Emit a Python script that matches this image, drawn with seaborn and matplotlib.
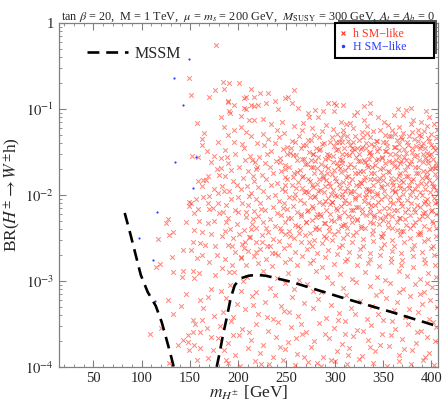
import numpy as np
import pandas as pd
import seaborn as sns
import matplotlib
matplotlib.use("Agg")
import matplotlib.pyplot as plt
from matplotlib.lines import Line2D
from matplotlib.patches import Rectangle
from matplotlib.ticker import FixedLocator, FixedFormatter, MultipleLocator

# points: (m_H+- [GeV], log10 BR)
h_top = [(149,-0.64),(151,-0.84),(177,-0.26),(184,-0.69),(191,-0.70),(200.5,-0.70),(176,-0.78),(185,-0.77),
         (208,-0.86),(213,-0.77),(169.6,-0.86),(189,-0.91),(195.6,-0.95),(206,-0.87),(206,-0.99),(208.5,-1.0),
         (216,-0.86),(216,-0.97),(192,-1.05),(203,-1.08),(182,-1.09),(157,-1.16),(164.5,-1.28),(163,-1.35),
         (185,-1.21),(189,-1.30),(195.6,-1.24),(203,-1.21),(208,-1.27),(213,-1.32),(216,-1.13),(211,-1.13),
         (195.6,-1.38),(204,-1.41),(220,-1.40),(163,-1.42),(179,-1.39),(223,-0.82),(231,-0.81),(248,-0.87),
         (257.5,-0.78),(252,-0.86),(293,-0.93),(299,-0.93),(299,-1.03),(190,-0.92),(191,-1.03),(213,-0.95),
         (221,-0.95),(228.6,-0.93),(238,-0.91),(241,-1.0),(256,-0.93),(262,-0.99),(272,-1.05),(280,-1.01),
         (287.5,-1.03),(283,-1.09),(273,-1.10),(301,-0.95),(309,-0.95),(330,-0.97),(337,-0.93),(323,-1.04),
         (336,-1.05),(365,-1.0),(373.5,-1.01),(378.6,-0.99),(394,-1.03),(397.5,-1.1),(345,-1.09),(350.8,-1.15),
         (361,-1.07),(370.3,-1.07),(381,-1.13),(389,-1.15),(320,-1.07),(306,-1.15),(316,-1.16),(330,-1.13),
         (167.5,-1.49),(152,-1.55),(158,-1.56),(175,-1.55),(182,-1.57),(188,-1.56),(182,-1.69),(226,-1.12),
         (234,-1.18),(245,-1.15),(258,-1.2),(267,-1.16),(276,-1.22),(240,-1.25),(226,-1.29)]

h_left = [(168.5,-1.78),(180,-1.77),(163,-1.90),(158,-1.84),(166.5,-1.83),(175,-1.93),(179,-1.98),(164,-2.02),
          (169.5,-2.01),(151,-2.09),(149,-2.13),(158,-2.16),(154,-2.21),(168.5,-2.09),(179,-2.09),(174,-2.15),
          (180,-2.21),(127,-2.28),(125,-2.33),(146,-2.31),(133,-2.43),(128,-2.47),(154,-2.41),(163,-2.43),
          (168.5,-2.33),(153,-2.55),(143,-2.64),(117,-2.51),(151,-2.64),(132,-2.72),(119,-2.80),(115,-2.84),
          (133,-2.90),(143,-2.88),(153,-2.88),(157,-2.73),(163,-2.70),(161,-2.56),(127,-3.22),(140.6,-3.29),
          (133,-3.38),(108.5,-3.62),(148,-3.63),(153,-3.60),(143,-3.69),(137.5,-3.74),(154,-3.74),(161,-3.78),
          (149,-3.80),(148,-3.71),(153.5,-3.45),(155,-3.50),(163,-3.45),(164,-3.31),(161,-3.22),(168.5,-3.19),
          (141.6,-2.95),(154,-2.97),(159,-2.91),(171.6,-3.10),(167.5,-3.55),(161,-3.59),(171.6,-3.65),
          (173.7,-3.80),(168.5,-3.90),(172,-2.45),(176,-2.6),(170,-2.78),(176,-2.93),(149,-2.08),(163.4,-1.83),
          (128,-3.95),(157,-3.92),(175,-3.41),(146,-3.15),(120,-3.55)]

h_mid = [(186,-1.48),(197,-1.52),(206,-1.46),(214,-1.59),(190,-1.63),(201,-1.67),(210,-1.72),(186,-1.78),
         (195,-1.84),(205,-1.8),(191,-1.96),(200,-2.03),(187,-2.12),(197,-2.18),(204,-2.09),(190,-2.27),
         (199,-2.34),(186,-2.42),(195,-2.5),(201,-2.46),(189,-2.58),(197,-2.66),(186,-2.75),(194,-2.81),
         (212,-1.55),(217,-1.62),(209,-1.9),(215,-2.28),(206,-2.62),(183,-1.9),(193,-1.71),(203,-1.93),
         (184,-2.2),(208,-2.2),(192,-2.4),(203,-2.72),(211,-2.49),
         (172,-1.62),(178,-1.7),(185,-1.95),(193,-2.05),(199,-1.88),(207,-1.6),(211,-2.01),(215,-1.78),
         (220,-1.67),(224,-2.16),(229,-2.38),(233,-2.6),(213,-2.4),(207,-2.55),(200,-2.2),(194,-2.6),
         (187,-2.32),(183,-2.48),(178,-2.7),(175,-2.3),(170,-2.16),(166,-2.58),(160,-2.3),(156,-2.05),
         (183,-2.85),(191,-2.9),(218,-2.66),(225,-2.55),(238,-2.67),(244,-2.42)]

h_dense = [
    (291,-1.19),(298,-1.23),(312,-1.18),(319,-1.22),(333,-1.2),(347,-1.24),(355,-1.19),(366,-1.21),(379,-1.18),(386,-1.24),(395,-1.2),(403,-1.17),
    (247,-1.28),(266,-1.25),(279,-1.3),(287,-1.26),(302,-1.29),(309,-1.25),(321,-1.31),(328,-1.27),(340,-1.26),(352,-1.3),(359,-1.25),(371,-1.28),(377,-1.31),(392,-1.26),(400,-1.29),(406,-1.25),
    (231,-1.35),(242,-1.33),(256,-1.37),(263,-1.32),(275,-1.36),(284,-1.33),(295,-1.38),(306,-1.34),(313,-1.31),(325,-1.36),(337,-1.33),(344,-1.37),(356,-1.32),(364,-1.36),(369,-1.33),(382,-1.35),(389,-1.31),(398,-1.37),(405,-1.34),
    (227,-1.42),(238,-1.4),(251,-1.44),(259,-1.39),(270,-1.42),(281,-1.45),(289,-1.4),(299,-1.43),(304,-1.39),(316,-1.42),(323,-1.45),(332,-1.4),(341,-1.43),(350,-1.39),(361,-1.44),(367,-1.41),(375,-1.38),(384,-1.43),(391,-1.4),(402,-1.44),
    (234,-1.49),(246,-1.47),(254,-1.51),(265,-1.46),(273,-1.5),(285,-1.47),(292,-1.52),(301,-1.48),(310,-1.45),(318,-1.5),(327,-1.47),(335,-1.51),(346,-1.46),(353,-1.49),(362,-1.52),(372,-1.47),(380,-1.5),(388,-1.46),(396,-1.51),(404,-1.48),
    (222,-1.56),(230,-1.53),(243,-1.57),(257,-1.54),(268,-1.58),(277,-1.53),(283,-1.56),(294,-1.54),(305,-1.58),(312,-1.53),(322,-1.56),(330,-1.59),(338,-1.54),(349,-1.57),(357,-1.52),(366,-1.55),(374,-1.59),(385,-1.54),(393,-1.57),(400,-1.53),
    (228,-1.63),(239,-1.61),(249,-1.65),(261,-1.6),(271,-1.64),(280,-1.61),(290,-1.66),(298,-1.62),(307,-1.6),(316,-1.64),(326,-1.61),(333,-1.65),(343,-1.6),(352,-1.63),(361,-1.66),(369,-1.61),(378,-1.64),(387,-1.6),(397,-1.63),(405,-1.66),
    (219,-1.7),(233,-1.68),(244,-1.72),(253,-1.67),(264,-1.71),(275,-1.68),(286,-1.73),(293,-1.69),(303,-1.66),(311,-1.71),(320,-1.68),(329,-1.72),(339,-1.67),(347,-1.7),(356,-1.73),(364,-1.68),(373,-1.71),(383,-1.67),(391,-1.72),(401,-1.69),
    (225,-1.77),(236,-1.75),(248,-1.79),(258,-1.74),(267,-1.78),(279,-1.75),(288,-1.8),(297,-1.76),(306,-1.73),(314,-1.78),(324,-1.75),(331,-1.79),(341,-1.74),(350,-1.77),(358,-1.8),(368,-1.75),(376,-1.78),(386,-1.74),(394,-1.79),(404,-1.76),
    (216,-1.84),(229,-1.82),(240,-1.86),(251,-1.81),(262,-1.85),(272,-1.82),(282,-1.87),(291,-1.83),(300,-1.8),(309,-1.85),(318,-1.82),(327,-1.86),(336,-1.81),(345,-1.84),(354,-1.87),(363,-1.82),(371,-1.85),(381,-1.81),(389,-1.86),(398,-1.83),(406,-1.8),
    (221,-1.91),(234,-1.89),(245,-1.93),(256,-1.88),(266,-1.92),(276,-1.89),(285,-1.94),(295,-1.9),(304,-1.87),(313,-1.92),(322,-1.89),(332,-1.93),(340,-1.88),(349,-1.91),(359,-1.94),(367,-1.89),(377,-1.92),(385,-1.88),(393,-1.93),(402,-1.9),
    (213,-1.98),(226,-1.96),(238,-2.0),(249,-1.95),(259,-1.99),(270,-1.96),(280,-2.01),(289,-1.97),(298,-1.94),(308,-1.99),(317,-1.96),(325,-2.0),(335,-1.95),(344,-1.98),(352,-2.01),(362,-1.96),(371,-1.99),(380,-1.95),(390,-2.0),(399,-1.97),(405,-1.94),
    (218,-2.05),(231,-2.03),(242,-2.07),(253,-2.02),(264,-2.06),(274,-2.03),(284,-2.08),(293,-2.04),(302,-2.01),(311,-2.06),(321,-2.03),(330,-2.07),(339,-2.02),(348,-2.05),(357,-2.08),(366,-2.03),(375,-2.06),(384,-2.02),(393,-2.07),(403,-2.04),
    (210,-2.12),(223,-2.1),(236,-2.14),(247,-2.09),(257,-2.13),(268,-2.1),(278,-2.15),(288,-2.11),(297,-2.08),(306,-2.13),(315,-2.1),(324,-2.14),(334,-2.09),(342,-2.12),(351,-2.15),(360,-2.1),(370,-2.13),(379,-2.09),(388,-2.14),(397,-2.11),(406,-2.08),
    (216,-2.19),(228,-2.17),(240,-2.21),(251,-2.16),(261,-2.2),(272,-2.17),(282,-2.22),(291,-2.18),(301,-2.15),(310,-2.2),(319,-2.17),(328,-2.21),(337,-2.16),(346,-2.19),(355,-2.22),(364,-2.17),(373,-2.2),(382,-2.16),(391,-2.21),(401,-2.18),
    (208,-2.26),(221,-2.24),(233,-2.28),(244,-2.23),(255,-2.27),(265,-2.24),(276,-2.29),(286,-2.25),(295,-2.22),(304,-2.27),(314,-2.24),(323,-2.28),(332,-2.23),(341,-2.26),(350,-2.29),(359,-2.24),(368,-2.27),(378,-2.23),(387,-2.28),(396,-2.25),(405,-2.22),
    (214,-2.34),(226,-2.32),(238,-2.36),(249,-2.31),(259,-2.35),(270,-2.32),(281,-2.37),(290,-2.33),(299,-2.3),(309,-2.35),(318,-2.32),(327,-2.36),(336,-2.31),(346,-2.34),(355,-2.37),(364,-2.32),(374,-2.35),(383,-2.31),(392,-2.36),(402,-2.33),
    (206,-2.41),(219,-2.39),(231,-2.43),(243,-2.38),(253,-2.42),(264,-2.39),(274,-2.44),(284,-2.4),(294,-2.37),(303,-2.42),(313,-2.39),(322,-2.43),(331,-2.38),(340,-2.41),(350,-2.44),(359,-2.39),(369,-2.42),(378,-2.38),(388,-2.43),(398,-2.4),
    (212,-2.49),(225,-2.47),(236,-2.51),(248,-2.46),(258,-2.5),(269,-2.47),(279,-2.52),(289,-2.48),(299,-2.45),(309,-2.5),(319,-2.47),(329,-2.51),(339,-2.46),(349,-2.49),(359,-2.52),(368,-2.47),(378,-2.5),(388,-2.46),(397,-2.51),(405,-2.48),
    (204,-2.57),(218,-2.55),(230,-2.59),(242,-2.54),(253,-2.58),(265,-2.55),(276,-2.6),(287,-2.56),(297,-2.53),(308,-2.58),(318,-2.55),(329,-2.59),(340,-2.54),(351,-2.57),(361,-2.6),(372,-2.55),(382,-2.58),(392,-2.54),(402,-2.59),
    (210,-2.65),(223,-2.63),(235,-2.67),(247,-2.62),(259,-2.66),(271,-2.63),(282,-2.68),(293,-2.64),(304,-2.61),(315,-2.66),(326,-2.63),(337,-2.67),(348,-2.62),(359,-2.65),(369,-2.68),(380,-2.63),(390,-2.66),(400,-2.62),
    (203,-2.73),(216,-2.71),(229,-2.75),(241,-2.7),(254,-2.74),(266,-2.71),(278,-2.76),(290,-2.72),(302,-2.69),(313,-2.74),(325,-2.71),(336,-2.75),(347,-2.7),(358,-2.73),(370,-2.76),(381,-2.71),(392,-2.74),(403,-2.7),
    (208,-2.81),(221,-2.79),(235,-2.83),(248,-2.78),(261,-2.82),(274,-2.79),(287,-2.84),(299,-2.8),(311,-2.77),(323,-2.82),(334,-2.79),(346,-2.83),(358,-2.78),(369,-2.81),(381,-2.84),(393,-2.79),(404,-2.82)]

h_core = [
    (243,-1.62),(249,-1.88),(252,-2.27),(255,-1.45),(258,-2.04),(261,-1.73),(263,-2.44),(266,-1.58),(268,-1.97),(270,-2.31),
    (272,-1.36),(274,-1.84),(276,-2.13),(278,-1.52),(280,-2.4),(282,-1.69),(283,-1.95),(285,-2.22),(287,-1.41),(288,-1.78),
    (290,-2.07),(291,-2.5),(293,-1.57),(294,-1.86),(296,-2.29),(297,-1.33),(299,-1.71),(300,-2.0),(302,-2.18),(303,-1.47),
    (305,-1.92),(306,-2.36),(308,-1.63),(309,-1.29),(310,-2.09),(312,-1.79),(313,-2.46),(315,-1.54),(316,-1.98),(318,-2.26),
    (319,-1.38),(321,-1.74),(322,-2.14),(324,-1.61),(325,-1.9),(327,-2.39),(328,-1.44),(330,-1.83),(331,-2.03),(333,-1.28),
    (334,-1.68),(336,-2.21),(337,-1.5),(339,-1.95),(340,-2.33),(342,-1.65),(343,-1.37),(345,-2.08),(346,-1.8),(348,-2.48),
    (349,-1.56),(351,-1.96),(352,-2.24),(354,-1.43),(355,-1.72),(357,-2.02),(358,-1.31),(360,-1.89),(361,-2.17),(363,-1.6),
    (364,-2.41),(366,-1.48),(367,-1.77),(369,-2.1),(370,-1.35),(372,-1.93),(373,-2.28),(375,-1.66),(376,-1.42),(378,-2.0),
    (379,-1.84),(381,-2.35),(382,-1.55),(384,-1.74),(385,-2.12),(387,-1.3),(388,-1.97),(390,-2.25),(391,-1.62),(393,-1.46),
    (394,-1.87),(396,-2.05),(397,-1.34),(399,-1.7),(400,-2.19),(402,-1.58),(403,-1.91),(405,-2.38),(406,-1.45),
    (246,-2.15),(251,-1.52),(257,-1.79),(262,-2.36),(267,-1.42),(271,-2.19),(275,-1.6),(279,-2.03),(284,-1.48),(289,-2.33),
    (292,-1.75),(295,-2.11),(298,-1.55),(301,-1.84),(304,-2.24),(307,-1.39),(311,-1.95),(314,-1.67),(317,-2.18),(320,-1.47),
    (323,-2.29),(326,-1.72),(329,-1.33),(332,-1.99),(335,-1.58),(338,-2.12),(341,-1.82),(344,-1.49),(347,-2.27),(350,-1.69),
    (353,-1.38),(356,-2.15),(359,-1.85),(362,-1.44),(365,-2.06),(368,-1.63),(371,-2.42),(374,-1.51),(377,-1.88),(380,-1.27),
    (383,-2.2),(386,-1.67),(389,-1.43),(392,-2.09),(395,-1.78),(398,-1.54),(401,-2.3),(404,-1.69),(407,-1.98),
    (248,-1.7),(254,-2.48),(260,-1.92),(265,-2.22),(269,-1.64),(273,-2.55),(277,-1.91),(281,-2.26),(286,-1.64),(290,-1.9),
    (294,-2.42),(297,-2.08),(301,-1.39),(305,-1.69),(308,-2.03),(311,-2.34),(315,-1.86),(318,-1.45),(321,-2.05),(325,-1.53),
    (328,-2.16),(331,-1.62),(334,-1.93),(338,-1.41),(341,-2.23),(345,-1.58),(348,-1.9),(352,-1.49),(355,-2.31),(359,-1.62),
    (362,-1.97),(366,-2.27),(369,-1.83),(372,-1.56),(376,-2.16),(379,-1.61),(383,-1.93),(386,-2.45),(390,-1.8),(393,-2.2),
    (397,-1.6),(400,-1.42),(404,-2.1),(386,-1.37),(391,-1.52),(396,-1.73),(401,-1.86),(405,-1.63),(380,-1.45),(374,-1.78),
    (368,-1.92),(362,-1.29),(356,-1.61),(350,-1.83),(344,-2.0),(338,-1.74),(332,-1.46),(326,-1.85),(320,-1.96),(314,-1.37),
    (308,-1.52),(302,-1.63),(296,-1.99),(290,-1.58),(284,-1.81),(278,-1.68),(272,-1.97),(266,-1.79),(260,-1.54)]

h_low = [
    (196,-2.9),(209,-2.95),(226,-2.88),(240,-2.97),(252,-2.91),(263,-2.99),(281,-2.89),(292,-2.96),(305,-2.92),(318,-2.98),(331,-2.9),(344,-2.95),(352,-2.99),(366,-2.89),(375,-2.94),(388,-2.98),(397,-2.91),(405,-2.96),
    (192,-3.05),(203,-3.12),(233,-3.08),(249,-3.02),(258,-3.1),(271,-3.04),(286,-3.13),(297,-3.03),(309,-3.08),(322,-3.01),(337,-3.06),(348,-3.12),(357,-3.03),(371,-3.09),(383,-3.04),(392,-3.13),(401,-3.07),
    (187,-3.2),(199,-3.27),(214,-3.18),(228,-3.24),(244,-3.29),(256,-3.19),(268,-3.26),(283,-3.21),(296,-3.28),(312,-3.17),(326,-3.23),(339,-3.29),(353,-3.2),(364,-3.25),(378,-3.18),(390,-3.27),(399,-3.22),(406,-3.3),
    (184,-3.36),(195,-3.42),(207,-3.33),(221,-3.39),(236,-3.44),(247,-3.35),(262,-3.41),(277,-3.32),(291,-3.43),(304,-3.37),(317,-3.31),(333,-3.44),(345,-3.38),(361,-3.34),(373,-3.42),(386,-3.36),(398,-3.44),
    (181,-3.52),(193,-3.47),(204,-3.56),(218,-3.5),(231,-3.58),(241,-3.48),(255,-3.54),(270,-3.59),(284,-3.49),(299,-3.55),(311,-3.47),(323,-3.57),(338,-3.51),(350,-3.46),(362,-3.56),(376,-3.5),(389,-3.58),(402,-3.48),
    (179,-3.66),(190,-3.72),(201,-3.63),(213,-3.69),(226,-3.74),(239,-3.65),(252,-3.71),(266,-3.62),(279,-3.7),(294,-3.66),(307,-3.73),(319,-3.64),(334,-3.69),(347,-3.74),(358,-3.63),(370,-3.68),(384,-3.72),(395,-3.65),(404,-3.7),
    (185,-3.8),(197,-3.86),(210,-3.78),(223,-3.84),(236,-3.89),(248,-3.79),(261,-3.85),(275,-3.77),(288,-3.88),(302,-3.82),(315,-3.78),(328,-3.87),(342,-3.81),(356,-3.76),(367,-3.86),(380,-3.8),(393,-3.88),
    (189,-3.95),(202,-3.99),(217,-3.93),(232,-3.97),(246,-3.92),(259,-3.98),(272,-3.94),(286,-3.99),(300,-3.93),(313,-3.97),(325,-3.91),(340,-3.96),(354,-3.99),(366,-3.93),(379,-3.97),(391,-3.92),(403,-3.98),
    (205,-3.0),(219,-3.13),(238,-3.16),(253,-3.36),(265,-3.5),(278,-3.12),(290,-3.62),(303,-3.45),(314,-3.86),(329,-3.58),
    (343,-3.16),(359,-3.47),(372,-3.79),(385,-3.6),(398,-3.84),(211,-3.6),(224,-3.97),(243,-3.77),(268,-3.88),(296,-3.92),
    (321,-3.39),(336,-3.77),(349,-3.62),(377,-3.33),(395,-3.02),(405,-3.54),(215,-3.28),(230,-3.42),(260,-3.66),(282,-3.96),
    (311,-3.62),(367,-3.13),(388,-3.15),(195,-3.63),(187,-3.92),(182,-3.12)]

H_mass = [148.9, 133.3, 142.6, 134.4, 156.1, 153.0, 115.7, 97.1, 111.6, 113.7]
H_logbr = [-0.42, -0.64, -0.95, -1.62, -1.56, -1.92, -2.20, -2.50, -2.76, -3.23]

mssm_left_m = [82.6, 88.8, 94.0, 99.2, 106.4, 114.7, 120.9, 126.1, 130.2, 133.3]
mssm_left_lbr = [-2.21, -2.47, -2.70, -2.93, -3.13, -3.29, -3.48, -3.69, -3.86, -4.0]
mssm_right_m = [177.8, 181.0, 184.1, 188.2, 192.3, 196.5, 202.7, 211.0, 219.3, 228.6, 254.5, 306.2, 358.0, 407.0]
mssm_right_lbr = [-4.0, -3.83, -3.64, -3.43, -3.20, -3.05, -2.97, -2.94, -2.93, -2.94, -3.01, -3.19, -3.36, -3.53]

title = r"tan $\beta$ = 20,  M = 1 TeV,  $\mu$ = $m_s$ = 200 GeV,  $M_{\rm SUSY}$ = 300 GeV, $A_t$ = $A_b$ = 0"

sns.set_style("ticks")
plt.rcParams['font.family'] = ['Liberation Serif', 'DejaVu Serif']
plt.rcParams['mathtext.fontset'] = 'stix'

red = '#ff3322'
blue = '#2a3cff'
frame = '#808080'

h = pd.DataFrame(h_top + h_left + h_mid + h_dense + h_core + h_low, columns=['m', 'lbr'])
h['br'] = 10 ** h['lbr']
H = pd.DataFrame({'m': H_mass, 'br': 10 ** np.array(H_logbr)})

fig = plt.figure(figsize=(4.43, 4.09), dpi=100)
ax = fig.add_axes([0.133, 0.103, 0.856, 0.841])

sns.scatterplot(data=h, x='m', y='br', ax=ax, marker='x', s=11, color=red,
                linewidth=0.75, alpha=0.58, legend=False)
sns.scatterplot(data=H, x='m', y='br', ax=ax, marker='o', s=2.5, color=blue,
                linewidth=0, legend=False)

dash = (4.5, 2.6)
ax.plot(mssm_left_m, 10 ** np.array(mssm_left_lbr), color='black', lw=1.9, dashes=dash)
ax.plot(mssm_right_m, 10 ** np.array(mssm_right_lbr), color='black', lw=1.9, dashes=dash)

ax.set_yscale('log')
ax.set_xlim(14.5, 407)
ax.set_ylim(1e-4, 1)

ax.xaxis.set_major_locator(FixedLocator([50, 100, 150, 200, 250, 300, 350, 400]))
ax.xaxis.set_minor_locator(MultipleLocator(10))
ax.yaxis.set_major_locator(FixedLocator([1e-4, 1e-3, 1e-2, 1e-1, 1]))
ax.yaxis.set_major_formatter(FixedFormatter([r'$10^{-4}$', r'$10^{-3}$', r'$10^{-2}$', r'$10^{-1}$', '1']))
ax.tick_params(which='both', direction='in', top=True, right=True, color=frame, labelsize=10.5)
ax.tick_params(which='major', length=5)
ax.tick_params(which='minor', length=2.5)
for s in ax.spines.values():
    s.set_color(frame)
    s.set_linewidth(0.9)

ax.set_xlabel(r"$m_{H^{\pm}}$ [GeV]", fontsize=12.5, labelpad=-1)
ax.set_ylabel(r"BR($H^{\pm}\rightarrow W^{\pm}$h)", fontsize=12.5, labelpad=2)
fig.text(0.56, 0.958, title, ha='center', va='center', fontsize=8.8)

# series legend, box stretched over the upper right corner
handles = [Line2D([], [], marker='x', ls='', color=red, ms=3, mew=0.8),
           Line2D([], [], marker='o', ls='', color=blue, ms=1.5)]
leg = ax.legend(handles, ['h SM\u2212like', 'H SM\u2212like'], loc='upper left',
                mode='expand', bbox_to_anchor=(0.728, 0.9, 0.261, 0.1),
                fontsize=8.6, frameon=True, fancybox=False, framealpha=1.0,
                handlelength=0.5, handletextpad=0.6, borderpad=0.4,
                labelspacing=0.15, borderaxespad=0.0)
leg.get_frame().set_edgecolor('black')
leg.get_frame().set_facecolor('white')
leg.get_frame().set_linewidth(1.5)
leg.set_zorder(6)
for t, c in zip(leg.get_texts(), [red, blue]):
    t.set_color(c)
ax.add_artist(leg)
ax.add_patch(Rectangle((0.736, 0.91), 0.261, 0.099, transform=ax.transAxes,
                       facecolor='#555555', edgecolor='none', clip_on=False, zorder=5.5))

mssm = Line2D([], [], color='black', lw=1.9, dashes=dash)
ax.legend([mssm], ['MSSM'], loc='upper left', bbox_to_anchor=(0.035, 0.975),
          frameon=False, fontsize=11.5, handlelength=2.6, handletextpad=0.4)

fig.savefig('out.png', dpi=100)
